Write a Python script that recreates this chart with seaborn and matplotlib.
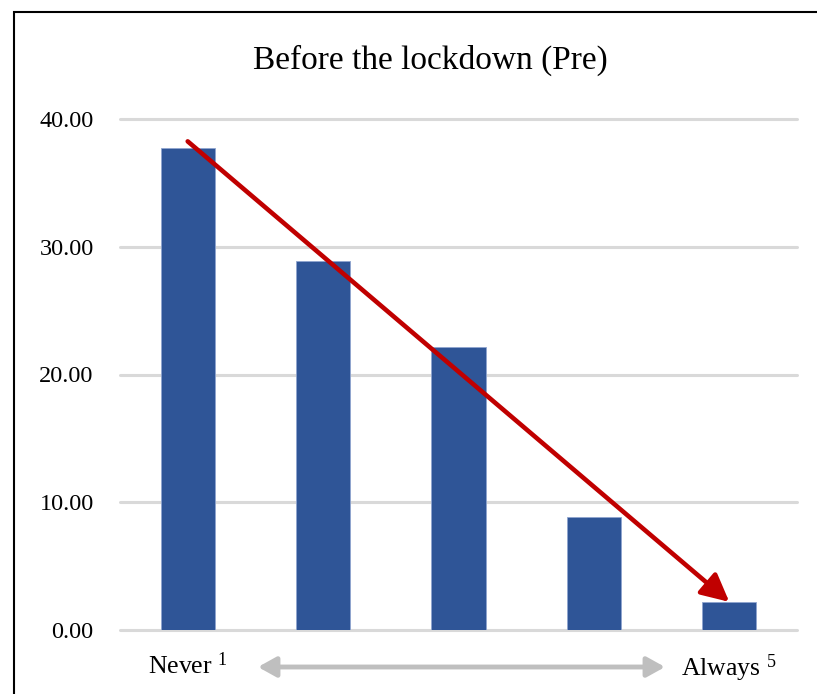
import matplotlib
matplotlib.use("Agg")
import matplotlib.pyplot as plt
import matplotlib.patches as patches
import pandas as pd
import seaborn as sns

# frequency scale, 1 = never ... 5 = always
levels = ["1", "2", "3", "4", "5"]
shares = [37.75, 28.85, 22.15, 8.85, 2.2]
tick_labels = [r"Never $^{1}$", "", "", "", r"Always $^{5}$"]
title = "Before the lockdown (Pre)"

df = pd.DataFrame({"level": levels, "share": shares})

sns.set_theme(style="white")
plt.rcParams["font.family"] = ["Liberation Serif", "DejaVu Serif"]
plt.rcParams["mathtext.fontset"] = "custom"
plt.rcParams["mathtext.rm"] = "Liberation Serif"
plt.rcParams["mathtext.it"] = "Liberation Serif"
plt.rcParams["mathtext.default"] = "regular"
plt.rcParams["text.color"] = "black"
plt.rcParams["xtick.color"] = "black"
plt.rcParams["ytick.color"] = "black"

fig = plt.figure(figsize=(8.17, 6.94), dpi=100)
ax = fig.add_axes([120 / 817, 64 / 694, 677 / 817, 511 / 694])

sns.barplot(data=df, x="level", y="share", color="#2F5597", width=0.4,
            saturation=1, edgecolor="#8FA5CF", linewidth=0.6, ax=ax, zorder=3)

ax.set_ylim(0, 40)
ax.set_xlim(-0.5, 4.5)
ax.set_yticks([0, 10, 20, 30, 40])
ax.set_yticklabels([f"{v:.2f}" for v in [0, 10, 20, 30, 40]], fontsize=17.5)
ax.set_xticks(range(len(levels)))
ax.set_xticklabels(tick_labels, fontsize=18.5)
ax.tick_params(axis="y", length=0, pad=19)
ax.tick_params(axis="x", length=0, pad=16)
ax.set_xlabel("")
ax.set_ylabel("")
ax.yaxis.grid(True, color="#D9D9D9", linewidth=2.2, zorder=0)
ax.set_axisbelow(True)
for gl in ax.get_ygridlines():
    gl.set_clip_on(False)
for s in ax.spines.values():
    s.set_visible(False)

# red trend arrow from first bar to last bar
ax.annotate("", xy=(4, shares[-1]), xytext=(0, shares[0] + 0.5),
            arrowprops=dict(arrowstyle="-|>,head_length=1.4,head_width=0.7",
                            color="#C00000", lw=3.3, shrinkA=0, shrinkB=0),
            zorder=5)

# grey double arrow between the end labels
ax.annotate("", xy=(665 / 817, 27 / 694), xytext=(258 / 817, 27 / 694),
            xycoords="figure fraction", textcoords="figure fraction",
            arrowprops=dict(arrowstyle="<|-|>,head_length=0.9,head_width=0.5",
                            color="#BFBFBF", lw=3.5, shrinkA=0, shrinkB=0))

fig.text(430 / 817, 1 - 60 / 694, title, ha="center", va="center", fontsize=24)

# chart frame
fig.patches.append(patches.Rectangle((14 / 817, -0.05), 1.1, 1 - 12 / 694 + 0.05,
                                     transform=fig.transFigure, fill=False,
                                     edgecolor="black", linewidth=1.5))

fig.savefig("out.png", dpi=100)
